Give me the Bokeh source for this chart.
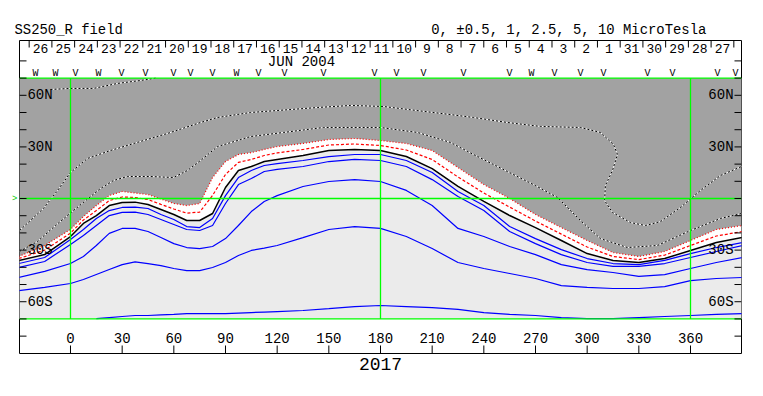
from bokeh.plotting import figure
from bokeh.models import Range1d, LinearAxis, FixedTicker, Title
from bokeh.core.properties import value
from bokeh.embed import file_html
from bokeh.resources import INLINE

nan = float("nan")
FONT = "Liberation Mono"
NBSP = "\u00a0"

# ---------------- data ----------------
# Carrington longitude grid (deg)
lon = [-30, -15, 0, 7.5, 15, 22.5, 30, 37.5, 45, 52.5, 60, 67.5, 75, 82.5, 90, 97.5, 105, 112.5, 120,
       135, 150, 165, 180, 195, 210, 225, 240, 255, 270, 285, 300, 315, 330, 345, 360, 375, 390]

# latitude (deg) of each field contour at the longitudes above
neutral = [-36.0, -32.6, -22.1, -14.5, -9.9, -4.1, -2.3, -2.1, -3.5, -6.4, -9.3, -12.8, -12.8, -8.7, 6.4,
           16.3, 18.6, 21.5, 22.7,
           25.0, 27.9, 28.5, 27.9, 24.4, 17.4, 7.0, -1.7, -9.9, -16.9, -24.4, -32.0, -36.0, -37.2, -34.9,
           -30.2, -25.6, -22.7]
neg1 = [-33.7, -27.3, -18.0, -10.5, -4.1, 1.7, 4.1, 3.2, 2.3, -0.3, -2.9, -4.1, -2.9, 12.2, 21.5,
        25.6, 26.7, 28.5, 30.2,
        32.0, 34.3, 34.9, 33.7, 32.0, 27.9, 18.0, 8.1, 0.0, -9.3, -16.9, -24.4, -31.4, -33.7, -30.8,
        -24.4, -18.0, -15.7]
neg05 = [-34.9, -30.0, -20.1, -12.5, -7.0, -1.2, 0.9, 0.6, -0.6, -3.4, -6.1, -8.5, -7.9, 1.8, 14.0,
         21.0, 22.7, 25.0, 26.5,
         28.5, 31.1, 31.7, 30.8, 28.2, 22.7, 12.5, 3.2, -5.0, -13.1, -20.7, -28.2, -33.7, -35.5, -32.9,
         -27.3, -21.8, -19.2]
pos05 = [-37.8, -34.3, -23.8, -18.0, -11.6, -7.0, -5.2, -5.0, -5.8, -9.3, -12.2, -16.3, -16.9, -11.6, 1.7,
         12.2, 16.3, 19.2, 20.3,
         22.1, 24.4, 25.6, 25.6, 22.1, 15.1, 4.1, -4.1, -16.3, -23.3, -29.7, -34.9, -37.8, -38.4, -36.0,
         -32.0, -28.5, -25.6]
pos1 = [-40.1, -36.6, -26.7, -21.5, -15.7, -9.9, -8.1, -7.9, -9.3, -12.2, -15.1, -18.0, -18.6, -15.7, -2.9,
        8.1, 11.6, 15.7, 16.9,
        18.6, 21.5, 22.7, 22.1, 18.6, 11.0, 1.2, -7.0, -19.2, -26.2, -32.6, -37.2, -39.5, -39.5, -37.8,
        -34.3, -30.8, -27.3]
pos25 = [-45.9, -42.4, -37.8, -33.7, -27.3, -20.3, -17.4, -17.4, -19.2, -22.7, -26.2, -28.5, -29.1, -27.9, -23.3,
         -15.7, -7.6, -1.7, 1.7,
         7.0, 9.9, 11.0, 9.9, 4.7, -4.1, -17.4, -22.1, -27.9, -32.6, -38.4, -41.3, -43.0, -45.3, -44.2,
         -40.7, -37.2, -34.3]
pos5 = [-53.5, -51.7, -49.4, -47.1, -44.2, -41.3, -38.4, -36.8, -37.8, -39.0, -40.7, -41.9, -41.9, -40.1, -37.2,
        -33.1, -30.2, -28.8, -27.3,
        -22.7, -18.0, -16.3, -17.4, -22.1, -29.1, -37.2, -40.7, -43.6, -46.5, -50.6, -51.7, -52.3, -52.3, -51.2,
        -47.7, -46.5, -45.9]
pos10 = [nan, nan, nan, nan, -69.8, -69.2, -68.6, -68.0, -68.0, -67.7, -67.4, -66.9, -66.9, -66.9, -66.9,
         -66.6, -66.3, -66.0, -65.7,
         -65.1, -64.0, -62.8, -62.2, -62.8, -63.4, -64.5, -66.3, -67.4, -68.0, -69.2, -69.8, -69.8, -69.2, -68.6,
         -68.0, -67.4, -66.9]

# negative contours traced as paths
neg25_lon = [-29.6, -19.2, -8.7, 1.7, 17.4, 25.0, 33.1, 46.5, 59.8, 67.9, 75.5, 85.4, 104.5, 123.7, 146.9,
             180.0, 201.5, 220.6, 234.0, 253.7, 268.8, 282.8, 296.1, 307.7, 323.4, 340.8, 360.0, 377.4, 389.6]
neg25_lat = [-30.8, -25.0, -15.7, -7.0, 5.8, 10.5, 12.8, 12.8, 12.2, 16.3, 22.1, 30.2, 36.0, 38.4, 41.3,
             41.3, 38.4, 32.6, 25.6, 15.7, 8.1, 0.6, -12.8, -23.3, -28.5, -27.3, -18.6, -11.6, -8.7]
neg5_lon = [-29.6, -15.7, -7.5, 0.0, 9.9, 23.2, 42.4, 56.3, 75.5, 85.4, 104.5, 143.4, 162.6, 181.7, 220.6,
            234.0, 253.7, 272.9, 296.1, 307.7, 315.3, 317.6, 314.7, 310.6, 310.1, 314.7, 325.2, 333.9, 342.6,
            354.2, 365.8, 377.4, 389.6]
neg5_lat = [-18.6, -5.8, 4.7, 15.1, 23.3, 27.9, 33.7, 37.8, 44.2, 47.1, 50.0, 52.9, 54.1, 53.5, 48.8,
            47.1, 44.2, 41.9, 41.3, 38.4, 31.4, 25.6, 16.3, 7.6, -1.2, -8.1, -14.0, -15.7, -13.4,
            -5.2, 4.7, 13.4, 18.6]
neg10_lon = [-11.6, 0.0, 13.4, 27.3, 40.6, 49.6]
neg10_lat = [63.4, 64.0, 64.0, 66.9, 68.6, 70.0]

# calendar days along the top (longitude decreases with time)
days = ["26", "25", "24", "23", "22", "21", "20", "19", "18", "17", "16", "15", "14", "13", "12", "11",
        "10", "9", "8", "7", "6", "5", "4", "3", "2", "1", "31", "30", "29", "28", "27"]
first_day_lon = -17.4
day_step = 360 / 27.2753

# observation markers
obs_lon = [-20.3, -8.7, 2.9, 16.3, 29.6, 43.5, 59.8, 69.7, 82.5, 96.4, 109.2, 124.3, 146.9,
           176.5, 189.3, 205.0, 228.2, 254.9, 267.7, 281.0, 296.1, 309.5, 335.0, 349.6, 375.7, 386.1]
obs_type = ["W", "W", "V", "W", "V", "V", "V", "V", "V", "W", "V", "V", "V",
            "V", "V", "V", "V", "V", "W", "V", "V", "V", "V", "V", "V", "V"]

lat_ticks = [-80, -70, -60, -50, -40, -30, -20, -10, 0, 10, 20, 30, 40, 50, 60, 70, 80]
lat_label_vals = [60, 30, -30, -60]
lat_label_txt = ["60N", "30N", "30S", "60S"]
lon_ticks = [0, 30, 60, 90, 120, 150, 180, 210, 240, 270, 300, 330, 360]

title_left = "SS250_R field"
title_right = "0, \u00b10.5, 1, 2.5, 5, 10 MicroTesla"
rotation_label = "2017"

# ---------------- layout ----------------
X0, X1 = -29.61, 389.61
Y0, Y1 = -90.1, 91.86
PX_X, PX_Y = 1.7222, 1.72          # pixels per degree
MAP_TOP, MAP_BOT = 70, -70

p = figure(width=763, height=396, x_range=Range1d(X0, X1), y_range=Range1d(Y0, Y1),
           x_axis_type=None, y_axis_type=None, output_backend="svg", toolbar_location=None,
           min_border_left=19, min_border_right=22, min_border_top=40, min_border_bottom=43,
           background_fill_color="white", border_fill_color="white")
p.outline_line_color = "black"
p.outline_line_width = 1

# titles (monospaced, non-breaking spaces keep the column positions)
p.title.text = title_left + NBSP * 37 + title_right
p.title.text_font = FONT
p.title.text_font_size = "13.9px"
p.title.text_font_style = "normal"
p.title.text_color = "black"
p.title.align = "left"
p.title.offset = -5
p.title.standoff = 5

p.add_layout(Title(text=rotation_label, align="center", text_font=FONT, text_font_size="18px",
                   text_font_style="normal", text_color="black", standoff=5), "below")

# green equator marker outside the frame
eq_axis = LinearAxis(ticker=FixedTicker(ticks=[0]), major_tick_in=0, major_tick_out=0,
                     minor_tick_line_color=None, axis_line_color=None, major_tick_line_color=None,
                     major_label_overrides={0: ">"}, major_label_text_color="#00cc00",
                     major_label_text_font=FONT, major_label_text_font_size="9px",
                     major_label_standoff=2)
p.add_layout(eq_axis, "left")

# polarity fills
p.varea(x=lon, y1=MAP_BOT, y2=neutral, fill_color="#ebebeb")
p.varea(x=lon, y1=neutral, y2=neg1, fill_color="white")
p.varea(x=lon, y1=neg1, y2=MAP_TOP, fill_color="#a2a2a2")


def dotted(xs, ys):
    p.line(xs, ys, line_color="white", line_width=1)
    p.line(xs, ys, line_color="black", line_width=1, line_dash="2 2")


dotted(neg25_lon, neg25_lat)
dotted(neg5_lon, neg5_lat)
dotted(neg10_lon, neg10_lat)

p.line(lon, neg1, line_color="red", line_width=1.2, line_dash="1 2")
p.line(lon, neg05, line_color="red", line_width=1.2, line_dash="3 2")
p.line(lon, neutral, line_color="black", line_width=1.5)
for arr in (pos05, pos1, pos25, pos5, pos10):
    p.line(lon, arr, line_color="#0000ff", line_width=1.2)

# green reference lines
p.segment(x0=[X0, X0, X0], y0=[MAP_TOP, 0, MAP_BOT], x1=[X1, X1, X1], y1=[MAP_TOP, 0, MAP_BOT],
          line_color="#00ff00", line_width=1.3)
p.segment(x0=[0, 180, 360], y0=[MAP_BOT] * 3, x1=[0, 180, 360], y1=[MAP_TOP] * 3,
          line_color="#00ff00", line_width=1.3)

# inward ticks
tick_lat = 7 / PX_X
p.segment(x0=[X0] * len(lat_ticks), y0=lat_ticks, x1=[X0 + tick_lat] * len(lat_ticks), y1=lat_ticks,
          line_color="black", line_width=1)
p.segment(x0=[X1 - tick_lat] * len(lat_ticks), y0=lat_ticks, x1=[X1] * len(lat_ticks), y1=lat_ticks,
          line_color="black", line_width=1)
p.segment(x0=lon_ticks, y0=[Y0] * len(lon_ticks), x1=lon_ticks, y1=[Y0 + 8 / PX_Y] * len(lon_ticks),
          line_color="black", line_width=1)

day_lon = [first_day_lon + k * day_step for k in range(len(days))]
day_edges = [d - day_step / 2 for d in day_lon] + [day_lon[-1] + day_step / 2]
p.segment(x0=day_edges, y0=[Y1] * len(day_edges), x1=day_edges, y1=[Y1 - 7 / PX_Y] * len(day_edges),
          line_color="black", line_width=1)

txt = dict(text_font=value(FONT), text_color="black", text_baseline="middle")

# longitude labels
p.text(x=lon_ticks, y=[-80.8] * len(lon_ticks), text=[str(v) for v in lon_ticks],
       text_align="center", text_font_size="14px", **txt)
# latitude labels, both sides
p.text(x=[-25.0] * 4, y=lat_label_vals, text=lat_label_txt, text_align="left",
       text_font_size="14px", **txt)
p.text(x=[385.0] * 4, y=lat_label_vals, text=lat_label_txt, text_align="right",
       text_font_size="14px", **txt)
# days
p.text(x=day_lon, y=[87.2] * len(days), text=days, text_align="center", text_font_size="13px", **txt)
p.text(x=[134.1], y=[79.1], text=["JUN 2004"], text_align="center", text_font_size="14px", **txt)
# observation markers
p.text(x=obs_lon, y=[72.9] * len(obs_lon), text=obs_type, text_align="center",
       text_font_size="10px", **txt)

open("out.html", "w").write(file_html(p, INLINE))
